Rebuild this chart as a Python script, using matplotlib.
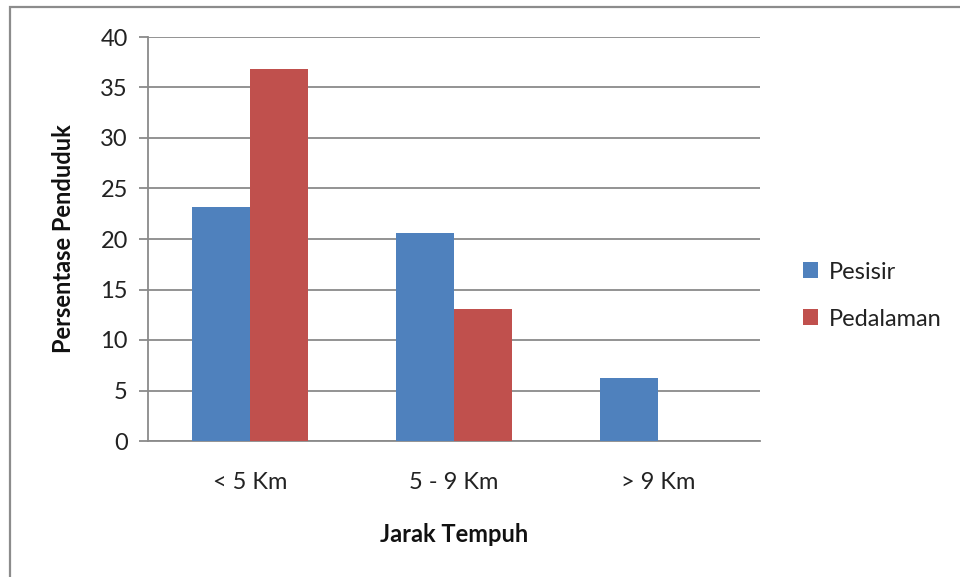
import numpy as np
import matplotlib.pyplot as plt
from matplotlib.patches import Rectangle

# Data
categories = ["< 5 Km", "5 - 9 Km", "> 9 Km"]
pesisir = [23.2, 20.6, 6.2]
pedalaman = [36.8, 13.1, 0]
series_names = ["Pesisir", "Pedalaman"]

plt.rcParams['font.family'] = ['Lato', 'DejaVu Sans']

W, H = 960, 577
fig = plt.figure(figsize=(W / 100, H / 100), dpi=100)

# chart area border (runs off the right and bottom edges)
fig.patches.append(Rectangle((10 / W, -0.05), 1.1, 1 - 7 / H + 0.05,
                             transform=fig.transFigure, fill=False,
                             edgecolor='#8c8c8c', linewidth=1.6))

ax = fig.add_axes([148 / W, (H - 441) / H, (760 - 148) / W, (441 - 37) / H])

x = np.arange(len(categories))
width = 0.285
ax.bar(x - width / 2, pesisir, width, color='#4F81BD', label=series_names[0], zorder=3)
ax.bar(x + width / 2, pedalaman, width, color='#C0504D', label=series_names[1], zorder=3)

ax.set_xlim(-0.5, 2.5)
ax.set_ylim(0, 40)
ax.set_yticks(range(0, 41, 5))
ax.set_xticks(x)
ax.set_xticklabels(categories)

ax.yaxis.grid(True, color='#8a8a8a', linewidth=1.3, zorder=0)
for side in ['top', 'right']:
    ax.spines[side].set_visible(False)
for side in ['left', 'bottom']:
    ax.spines[side].set_color('#8a8a8a')
    ax.spines[side].set_linewidth(1.3)
ax.tick_params(axis='y', length=6.5, width=1.3, color='#8a8a8a', labelsize=17, pad=8,
               labelcolor='#222222')
ax.tick_params(axis='x', length=0, labelsize=17, pad=22, labelcolor='#222222')

ax.set_xlabel("Jarak Tempuh", fontsize=17, fontweight='bold', labelpad=22, color='#111111')
ax.set_ylabel("Persentase Penduduk", fontsize=17, fontweight='bold', labelpad=18, color='#111111')

ax.legend(loc='center left', bbox_to_anchor=(1.035, 0.36), frameon=False,
          fontsize=17, handlelength=0.65, handleheight=0.65, handletextpad=0.45,
          labelspacing=1.1, labelcolor='#222222')

fig.savefig("out.png", dpi=100)
